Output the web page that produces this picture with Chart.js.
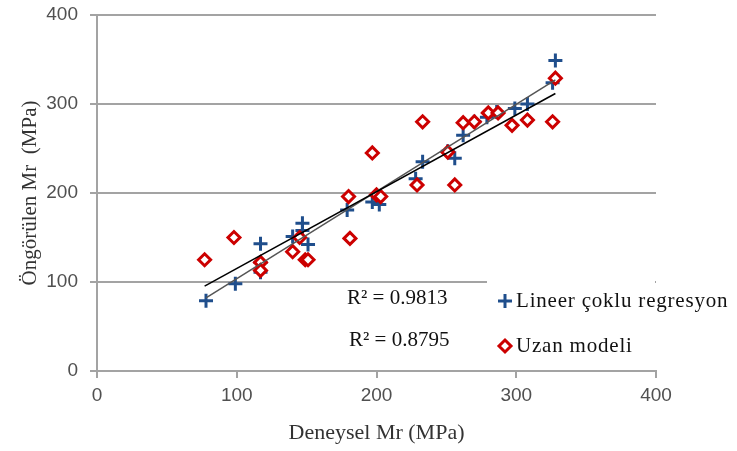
<!DOCTYPE html>
<html>
<head>
<meta charset="utf-8">
<script src="https://cdn.jsdelivr.net/npm/chart.js@4/dist/chart.umd.min.js"></script>
<style>
  html, body { margin: 0; padding: 0; background: #fff; }
  #wrap { width: 737px; height: 451px; }
</style>
</head>
<body>
<div id="wrap"><canvas id="mrChart" width="737" height="451"></canvas></div>
<script>
// Lineer çoklu regresyon: deneysel / öngörülen Mr (MPa)
const lineerX = [78, 99, 117, 117, 117, 140, 147, 147, 151, 179, 197, 202, 228, 233, 251, 256, 262, 270, 279, 286, 299, 308, 326, 328];
const lineerY = [79, 98, 143, 122, 111, 151, 166, 158, 142, 181, 190, 187, 216, 235, 247, 239, 265, 280, 285, 291, 295, 300, 324, 349];

// Uzan modeli
const uzanX = [77, 98, 117, 117, 140, 145, 149, 151, 180, 181, 197, 200, 203, 229, 233, 251, 256, 262, 270, 280, 287, 297, 308, 326, 328];
const uzanY = [125, 150, 122, 113, 134, 150, 125, 125, 196, 149, 245, 198, 196, 209, 280, 246, 209, 279, 280, 290, 290, 276, 282, 280, 329];

const seriesNames = ["Lineer çoklu regresyon", "Uzan modeli"];
const r2Labels = ["R² = 0.9813", "R² = 0.8795"];
const axisTicks = [0, 100, 200, 300, 400];

const blue = "#1f4e8c";
const red = "#cc0000";
const gridGray = "#a3a3a3";
const serif = "'Liberation Serif', 'Times New Roman', serif";

// en küçük kareler doğrusu, serinin en küçük ve en büyük x değeri arasında
function trendLine(xs, ys) {
    const n = xs.length;
    const mx = xs.reduce((a, b) => a + b, 0) / n;
    const my = ys.reduce((a, b) => a + b, 0) / n;
    let sxy = 0, sxx = 0;
    for (let i = 0; i < n; i++) {
        sxy += (xs[i] - mx) * (ys[i] - my);
        sxx += (xs[i] - mx) * (xs[i] - mx);
    }
    const b = sxy / sxx;
    const a = my - b * mx;
    const x0 = Math.min(...xs), x1 = Math.max(...xs);
    return [{ x: x0, y: a + b * x0 }, { x: x1, y: a + b * x1 }];
}

const toPoints = (xs, ys) => xs.map((x, i) => ({ x: x, y: ys[i] }));

// lejant ve R² yazıları
const annotations = {
    id: "annotations",
    afterDraw(chart) {
        const c = chart.ctx;
        c.save();
        c.fillStyle = "#fff";
        c.fillRect(487, 279, 168, 90);

        // artı işareti
        c.strokeStyle = blue;
        c.lineWidth = 3;
        c.beginPath();
        c.moveTo(498, 301); c.lineTo(512, 301);
        c.moveTo(505, 294); c.lineTo(505, 308);
        c.stroke();

        // baklava işareti
        c.strokeStyle = red;
        c.fillStyle = "#fff";
        c.beginPath();
        c.moveTo(505, 340); c.lineTo(511, 346); c.lineTo(505, 352); c.lineTo(499, 346);
        c.closePath();
        c.fill();
        c.stroke();

        c.fillStyle = "#111";
        c.textBaseline = "middle";
        c.textAlign = "left";
        c.font = "21px " + serif;
        c.letterSpacing = "0.8px";
        c.fillText(seriesNames[0], 516, 301);
        c.fillText(seriesNames[1], 516, 346);

        c.letterSpacing = "0px";
        c.fillText(r2Labels[0], 347, 298);
        c.fillText(r2Labels[1], 349, 340);
        c.restore();
    }
};

const ctx = document.getElementById("mrChart").getContext("2d");

new Chart(ctx, {
    type: "scatter",
    data: {
        datasets: [
            {
                label: seriesNames[0],
                data: toPoints(lineerX, lineerY),
                pointStyle: "cross",
                pointRadius: 7,
                pointBorderWidth: 3,
                borderColor: blue,
                backgroundColor: blue,
                order: 3
            },
            {
                label: seriesNames[1],
                data: toPoints(uzanX, uzanY),
                pointStyle: "rectRot",
                pointRadius: 6,
                pointBorderWidth: 3,
                borderColor: red,
                backgroundColor: "#fff",
                order: 2
            },
            {
                type: "line",
                label: "trend1",
                data: trendLine(lineerX, lineerY),
                borderColor: "#555",
                borderWidth: 1.5,
                pointRadius: 0,
                order: 1
            },
            {
                type: "line",
                label: "trend2",
                data: trendLine(uzanX, uzanY),
                borderColor: "#000",
                borderWidth: 1.5,
                pointRadius: 0,
                order: 0
            }
        ]
    },
    options: {
        responsive: false,
        animation: false,
        layout: { padding: { top: 15, right: 81, bottom: 0, left: 0 } },
        plugins: {
            legend: { display: false },
            tooltip: { enabled: false }
        },
        scales: {
            x: {
                type: "linear",
                min: 0,
                max: 400,
                afterBuildTicks: (s) => { s.ticks = axisTicks.map(v => ({ value: v })); },
                afterFit: (s) => { s.height = 80; s.paddingLeft = 0; s.paddingRight = 0; },
                grid: { drawOnChartArea: false, color: gridGray, lineWidth: 2, tickLength: 7 },
                border: { color: gridGray, width: 2 },
                ticks: {
                    color: "#505050",
                    padding: 6,
                    font: { family: "'Liberation Sans', Arial, sans-serif", size: 19 }
                },
                title: {
                    display: true,
                    text: "Deneysel Mr (MPa)",
                    color: "#333",
                    font: { family: serif, size: 22 },
                    padding: { top: 0, bottom: 5 }
                }
            },
            y: {
                type: "linear",
                min: 0,
                max: 400,
                afterBuildTicks: (s) => { s.ticks = axisTicks.map(v => ({ value: v })); },
                afterFit: (s) => { s.width = 97; s.paddingTop = 0; s.paddingBottom = 0; },
                grid: { color: gridGray, lineWidth: 2, tickLength: 7 },
                border: { color: gridGray, width: 2 },
                ticks: {
                    color: "#505050",
                    padding: 12,
                    font: { family: "'Liberation Sans', Arial, sans-serif", size: 19 }
                },
                title: {
                    display: true,
                    text: "Öngörülen Mr  (MPa)",
                    color: "#333",
                    font: { family: serif, size: 21 },
                    padding: { top: 18, bottom: 0 }
                }
            }
        }
    },
    plugins: [annotations]
});
</script>
</body>
</html>
